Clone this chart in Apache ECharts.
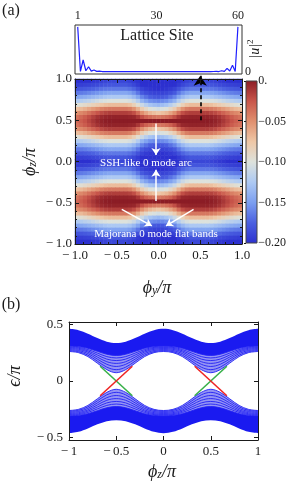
<!DOCTYPE html>
<html><head><meta charset="utf-8">
<script src="https://cdn.jsdelivr.net/npm/echarts@6/dist/echarts.min.js"></script>
<style>html,body{margin:0;padding:0;background:#fff}#c{width:289px;height:484px}</style>
</head><body><div id="c"></div>
<script>
// ---------- Inset: |u|^2 vs lattice site ----------
const latticeSites = [1,2,3,4,5,6,7,8,9,10,11,12,13,14,15,16,17,18,19,20,21,22,23,24,25,26,27,28,29,30,31,32,33,34,35,36,37,38,39,40,41,42,43,44,45,46,47,48,49,50,51,52,53,54,55,56,57,58,59,60];
const insetU2 = [.96,.004,.25,.02,.105,.012,.035,.006,.012,.003,.004,.002,.002,
  .001,.001,.001,.001,.001,.001,.001,.001,.001,.001,
  .001,.001,.001,.001,.001,.001,.001,.001,.001,.001,
  .001,.001,.001,.001,.001,.001,.001,.001,.001,.001,
  .001,.001,.001,.001,
  .002,.002,.003,.004,.006,.003,.02,.008,.07,.015,.14,.004,.96];
const insetTicks = [1,30,60];
const insetTickLabels = ['1','30','60'];

// ---------- Heatmap (a) ----------
const heatPhiY = [-1,-.95,-.9,-.85,-.8,-.75,-.7,-.65,-.6,-.55,-.5,-.45,-.4,-.35,-.3,-.25,-.2,-.15,-.1,-.05,0,.05,.1,.15,.2,.25,.3,.35,.4,.45,.5,.55,.6,.65,.7,.75,.8,.85,.9,.95,1];
const heatPhiZ = [1,.95,.9,.85,.8,.75,.7,.65,.6,.55,.5,.45,.4,.35,.3,.25,.2,.15,.1,.05,0,-.05,-.1,-.15,-.2,-.25,-.3,-.35,-.4,-.45,-.5,-.55,-.6,-.65,-.7,-.75,-.8,-.85,-.9,-.95,-1];
// rows read along phi_y (-1 -> 1) at a given distance of |phi_z| from 0.5
const rowDz00 = [-.033,-.029,-.024,-.018,-.012,-.006,-.003,-.001,0,0,0,0,0,0,0,0,0,0,0,0,0,0,0,0,0,0,0,0,0,0,0,0,0,-.001,-.003,-.006,-.012,-.018,-.024,-.029,-.033];
const rowDz05 = [-.037,-.033,-.028,-.022,-.016,-.01,-.006,-.004,-.003,-.003,-.003,-.003,-.003,-.004,-.005,-.012,-.022,-.03,-.035,-.038,-.04,-.038,-.035,-.03,-.022,-.012,-.005,-.004,-.003,-.003,-.003,-.003,-.003,-.004,-.006,-.01,-.016,-.022,-.028,-.033,-.037];
const rowDz10 = [-.05,-.047,-.043,-.037,-.031,-.025,-.02,-.017,-.015,-.015,-.015,-.015,-.015,-.017,-.022,-.035,-.05,-.06,-.068,-.072,-.075,-.072,-.068,-.06,-.05,-.035,-.022,-.017,-.015,-.015,-.015,-.015,-.015,-.017,-.02,-.025,-.031,-.037,-.043,-.047,-.05];
const rowDz15 = [-.072,-.069,-.065,-.06,-.055,-.05,-.045,-.042,-.04,-.04,-.04,-.04,-.04,-.043,-.052,-.065,-.08,-.09,-.098,-.102,-.105,-.102,-.098,-.09,-.08,-.065,-.052,-.043,-.04,-.04,-.04,-.04,-.04,-.042,-.045,-.05,-.055,-.06,-.065,-.069,-.072];
const rowDz20 = [-.098,-.095,-.092,-.088,-.084,-.08,-.075,-.072,-.07,-.07,-.07,-.07,-.07,-.073,-.083,-.095,-.11,-.12,-.128,-.132,-.135,-.132,-.128,-.12,-.11,-.095,-.083,-.073,-.07,-.07,-.07,-.07,-.07,-.072,-.075,-.08,-.084,-.088,-.092,-.095,-.098];
const rowDz25 = [-.124,-.122,-.119,-.116,-.112,-.108,-.104,-.102,-.1,-.1,-.1,-.1,-.1,-.103,-.11,-.122,-.138,-.147,-.155,-.158,-.16,-.158,-.155,-.147,-.138,-.122,-.11,-.103,-.1,-.1,-.1,-.1,-.1,-.102,-.104,-.108,-.112,-.116,-.119,-.122,-.124];
const rowDz30 = [-.146,-.144,-.142,-.139,-.136,-.133,-.13,-.127,-.125,-.125,-.125,-.125,-.125,-.128,-.135,-.146,-.16,-.168,-.175,-.178,-.18,-.178,-.175,-.168,-.16,-.146,-.135,-.128,-.125,-.125,-.125,-.125,-.125,-.127,-.13,-.133,-.136,-.139,-.142,-.144,-.146];
const rowDz35 = [-.165,-.164,-.162,-.159,-.156,-.153,-.15,-.147,-.145,-.145,-.145,-.145,-.145,-.148,-.155,-.166,-.178,-.184,-.188,-.19,-.19,-.19,-.188,-.184,-.178,-.166,-.155,-.148,-.145,-.145,-.145,-.145,-.145,-.147,-.15,-.153,-.156,-.159,-.162,-.164,-.165];
const rowDz40 = [-.181,-.18,-.178,-.176,-.174,-.171,-.168,-.166,-.165,-.165,-.165,-.165,-.165,-.168,-.173,-.182,-.19,-.194,-.197,-.199,-.2,-.199,-.197,-.194,-.19,-.182,-.173,-.168,-.165,-.165,-.165,-.165,-.165,-.166,-.168,-.171,-.174,-.176,-.178,-.18,-.181];
const rowDz45 = [-.193,-.192,-.191,-.19,-.188,-.186,-.183,-.181,-.18,-.18,-.18,-.18,-.18,-.183,-.188,-.194,-.2,-.2,-.2,-.2,-.2,-.2,-.2,-.2,-.2,-.194,-.188,-.183,-.18,-.18,-.18,-.18,-.18,-.181,-.183,-.186,-.188,-.19,-.191,-.192,-.193];
const rowDz50 = [-.2,-.2,-.2,-.2,-.197,-.195,-.192,-.19,-.188,-.188,-.188,-.188,-.188,-.191,-.195,-.198,-.2,-.2,-.2,-.2,-.2,-.2,-.2,-.2,-.2,-.198,-.195,-.191,-.188,-.188,-.188,-.188,-.188,-.19,-.192,-.195,-.197,-.2,-.2,-.2,-.2];
// rows from phi_z = 1 (top) to phi_z = -1 (bottom)
const heatRows = [rowDz50,rowDz45,rowDz40,rowDz35,rowDz30,rowDz25,rowDz20,rowDz15,rowDz10,rowDz05,rowDz00,
  rowDz05,rowDz10,rowDz15,rowDz20,rowDz25,rowDz30,rowDz35,rowDz40,rowDz45,rowDz50,
  rowDz45,rowDz40,rowDz35,rowDz30,rowDz25,rowDz20,rowDz15,rowDz10,rowDz05,rowDz00,
  rowDz05,rowDz10,rowDz15,rowDz20,rowDz25,rowDz30,rowDz35,rowDz40,rowDz45,rowDz50];
const heatPalette = ['#2c30cf','#4a5fe0','#7b9ef0','#adc9f3','#dde2dc','#eec7a6','#e08f6e','#c8554a','#8b1c25'];
const heatTicks = [-1,-.5,0,.5,1];
const heatTickLabels = ['\u2212\u20091.0','\u2212\u20090.5','0.0','0.5','1.0'];
const cbTicks = [0,-.05,-.1,-.15,-.2];
const cbTickLabels = ['0.','\u22120.05','\u22120.10','\u22120.15','\u22120.20'];
// annotations (data coordinates of panel a)
const whiteArrows = [
  [[-.03,.46],[-.03,.08]],
  [[-.03,-.48],[-.03,-.1]],
  [[-.44,-.58],[-.08,-.78]],
  [[.42,-.58],[.09,-.78]]
];
const dashedArrow = [[.5,.5],[.5,1.04]];

// ---------- Spectrum (b) ----------
const bandPhiZ = [-1,-.9,-.8,-.7,-.6,-.5,-.4,-.3,-.2,-.1,0,.1,.2,.3,.4,.5,.6,.7,.8,.9,1];
const upperOuter = [.46,.448,.417,.378,.347,.335,.347,.378,.417,.448,.46,.448,.417,.378,.347,.335,.347,.378,.417,.448,.46];
const upperDense = [.307,.303,.288,.262,.236,.225,.236,.262,.288,.303,.307,.303,.288,.262,.236,.225,.236,.262,.288,.303,.307];
const upperInner = [.26,.25,.215,.157,.1,.073,.1,.157,.215,.25,.26,.25,.215,.157,.1,.073,.1,.157,.215,.25,.26];
const upperArc1 = [.268,.259,.228,.175,.122,.1,.122,.175,.228,.259,.268,.259,.228,.175,.122,.1,.122,.175,.228,.259,.268];
const upperArc2 = [.277,.269,.242,.193,.147,.128,.147,.193,.242,.269,.277,.269,.242,.193,.147,.128,.147,.193,.242,.269,.277];
const upperArc3 = [.286,.279,.255,.211,.17,.155,.17,.211,.255,.279,.286,.279,.255,.211,.17,.155,.17,.211,.255,.279,.286];
const upperArc4 = [.294,.288,.266,.229,.193,.18,.193,.229,.266,.288,.294,.288,.266,.229,.193,.18,.193,.229,.266,.288,.294];
const upperArc5 = [.3,.296,.277,.246,.215,.203,.215,.246,.277,.296,.3,.296,.277,.246,.215,.203,.215,.246,.277,.296,.3];
const lowerOuter = [-.46,-.448,-.418,-.382,-.354,-.345,-.354,-.382,-.418,-.448,-.46,-.448,-.418,-.382,-.354,-.345,-.354,-.382,-.418,-.448,-.46];
const lowerDense = [-.307,-.303,-.288,-.262,-.236,-.225,-.236,-.262,-.288,-.303,-.307,-.303,-.288,-.262,-.236,-.225,-.236,-.262,-.288,-.303,-.307];
const lowerInner = [-.26,-.25,-.215,-.157,-.1,-.073,-.1,-.157,-.215,-.25,-.26,-.25,-.215,-.157,-.1,-.073,-.1,-.157,-.215,-.25,-.26];
const lowerArc1 = [-.268,-.259,-.228,-.175,-.122,-.1,-.122,-.175,-.228,-.259,-.268,-.259,-.228,-.175,-.122,-.1,-.122,-.175,-.228,-.259,-.268];
const lowerArc2 = [-.277,-.269,-.242,-.193,-.147,-.128,-.147,-.193,-.242,-.269,-.277,-.269,-.242,-.193,-.147,-.128,-.147,-.193,-.242,-.269,-.277];
const lowerArc3 = [-.286,-.279,-.255,-.211,-.17,-.155,-.17,-.211,-.255,-.279,-.286,-.279,-.255,-.211,-.17,-.155,-.17,-.211,-.255,-.279,-.286];
const lowerArc4 = [-.294,-.288,-.266,-.229,-.193,-.18,-.193,-.229,-.266,-.288,-.294,-.288,-.266,-.229,-.193,-.18,-.193,-.229,-.266,-.288,-.294];
const lowerArc5 = [-.3,-.296,-.277,-.246,-.215,-.203,-.215,-.246,-.277,-.296,-.3,-.296,-.277,-.246,-.215,-.203,-.215,-.246,-.277,-.296,-.3];
const edgeRed1 = [[-.67,-.13],[-.33,.13]];
const edgeGreen1 = [[-.67,.13],[-.33,-.13]];
const edgeRed2 = [[.33,.13],[.67,-.13]];
const edgeGreen2 = [[.33,-.13],[.67,.13]];
const bandTicksX = [-1,-.5,0,.5,1];
const bandTickLabelsX = ['\u2212\u20091','\u2212\u20090.5','0','0.5','1'];
const bandTicksY = [-.5,0,.5];
const bandTickLabelsY = ['\u2212\u20090.5','0','0.5'];

// ---------- build ----------
const SERIF = '"Liberation Serif","Times New Roman",serif';
const INK = '#1a1a1a';
const chart = echarts.init(document.getElementById('c'), null, {renderer:'canvas', width:289, height:484});
function lab(vals, labels){ return function(v){ for (let i=0;i<vals.length;i++){ if (Math.abs(vals[i]-v)<1e-6) return labels[i]; } return ''; }; }

const heatData = [];
heatRows.forEach(function(row, r){ row.forEach(function(v, c){ heatData.push([c, r, v]); }); });

const frameLine = {show:true, onZero:false, lineStyle:{color:INK, width:1}};
const labelStyle = {fontFamily:SERIF, color:INK};

function bandLine(vals, opt){
  return Object.assign({type:'line', xAxisIndex:5, yAxisIndex:5, data: bandPhiZ.map(function(x,i){return [x, vals[i]];}),
    symbol:'none', smooth:0.35, silent:true, animation:false}, opt);
}
function fillSeries(vals, color, z){ return bandLine(vals, {lineStyle:{width:0, color:color}, areaStyle:{color:color, opacity:1}, z:z}); }
function curveSeries(vals){ return bandLine(vals, {lineStyle:{width:0.9, color:'#2222f4'}, z:3}); }
function edgeSeries(pts, color){ return {type:'line', xAxisIndex:5, yAxisIndex:5, data:pts, symbol:'none', lineStyle:{color:color, width:1.6}, z:4, silent:true}; }

const cbStops = heatPalette.slice().reverse().map(function(c,i){ return {offset:i/(heatPalette.length-1), color:c}; });

function mathText(x, y, parts, rot, size){
  size = size || 18;
  return {type:'text', x:x, y:y, rotation:rot||0, z:100, silent:true, style:{
    text: parts, fill:INK, textAlign:'center', textVerticalAlign:'middle',
    rich:{
      m:{fontSize:size, fontStyle:'italic', fontFamily:SERIF, fill:INK, lineHeight:size+2, verticalAlign:'bottom'},
      s:{fontSize:Math.round(size*0.66), fontStyle:'italic', fontFamily:SERIF, fill:INK, lineHeight:8, verticalAlign:'bottom'},
      p:{fontSize:Math.round(size*0.66), fontFamily:SERIF, fill:INK, lineHeight:8, verticalAlign:'top'}
    }}};
}
function plainText(x, y, text, size, color, extra){
  return {type:'text', x:x, y:y, z:100, silent:true, style:Object.assign({text:text, font: size+'px '+SERIF, fill:color||INK, textAlign:'center', textVerticalAlign:'middle'}, extra||{})};
}

const option = {
  backgroundColor:'#fff',
  animation:false,
  grid:[
    {left:75, top:25, width:167, height:49, show:true, borderColor:'#333', borderWidth:1, backgroundColor:'rgba(0,0,0,0)'},
    {left:75, top:79, width:167, height:165},
    {left:75, top:79, width:167, height:165},
    {left:246, top:81, width:11, height:162},
    {left:69, top:322, width:189, height:118}
  ],
  xAxis:[
    {gridIndex:0, type:'value', min:0, max:61.5, position:'top', axisLine:{show:false}, axisTick:{show:false}, splitLine:{show:false},
      axisLabel:Object.assign({customValues:insetTicks, formatter:lab(insetTicks, insetTickLabels), fontSize:12, margin:3}, labelStyle)},
    {gridIndex:1, type:'category', data:heatPhiY, show:false},
    {gridIndex:2, type:'value', min:-1, max:1, interval:0.5, position:'bottom', z:10, axisLine:frameLine,
      axisTick:{show:true, inside:true, length:4, lineStyle:{color:INK}}, minorTick:{show:true, splitNumber:5, length:2, lineStyle:{color:INK}},
      splitLine:{show:false}, minorSplitLine:{show:false},
      axisLabel:Object.assign({formatter:lab(heatTicks, heatTickLabels), fontSize:13, margin:5, showMinLabel:true, showMaxLabel:true}, labelStyle)},
    {gridIndex:2, type:'value', min:-1, max:1, interval:0.5, position:'top', z:10, axisLine:frameLine,
      axisTick:{show:true, inside:true, length:4, lineStyle:{color:INK}}, minorTick:{show:true, splitNumber:5, length:2, lineStyle:{color:INK}},
      splitLine:{show:false}, axisLabel:{show:false}},
    {gridIndex:3, type:'value', min:0, max:1, show:false},
    {gridIndex:4, type:'value', min:-1, max:1, interval:0.5, position:'bottom', z:10, axisLine:frameLine,
      axisTick:{show:true, inside:true, length:4, lineStyle:{color:INK}}, splitLine:{show:false},
      axisLabel:Object.assign({formatter:lab(bandTicksX, bandTickLabelsX), fontSize:13, margin:5, showMinLabel:true, showMaxLabel:true}, labelStyle)},
    {gridIndex:4, type:'value', min:-1, max:1, interval:0.5, position:'top', z:10, axisLine:frameLine,
      axisTick:{show:true, inside:true, length:4, lineStyle:{color:INK}}, splitLine:{show:false}, axisLabel:{show:false}}
  ],
  yAxis:[
    {gridIndex:0, type:'value', min:-0.05, max:1, position:'right', axisLine:{show:false}, axisTick:{show:false}, splitLine:{show:false},
      axisLabel:Object.assign({customValues:[0], formatter:function(){return '0';}, fontSize:12, margin:3}, labelStyle)},
    {gridIndex:1, type:'category', data:heatPhiZ, inverse:true, show:false},
    {gridIndex:2, type:'value', min:-1, max:1, interval:0.5, position:'left', z:10, axisLine:frameLine,
      axisTick:{show:true, inside:true, length:4, lineStyle:{color:INK}}, minorTick:{show:true, splitNumber:5, length:2, lineStyle:{color:INK}},
      splitLine:{show:false},
      axisLabel:Object.assign({formatter:lab(heatTicks, heatTickLabels), fontSize:13, margin:3, showMinLabel:true, showMaxLabel:true}, labelStyle)},
    {gridIndex:2, type:'value', min:-1, max:1, interval:0.5, position:'right', z:10, axisLine:frameLine,
      axisTick:{show:true, inside:true, length:4, lineStyle:{color:INK}}, minorTick:{show:true, splitNumber:5, length:2, lineStyle:{color:INK}},
      splitLine:{show:false}, axisLabel:{show:false}},
    {gridIndex:3, type:'value', min:-0.2, max:0, interval:0.05, position:'right', axisLine:{show:false},
      axisTick:{show:true, inside:true, length:2, lineStyle:{color:INK}}, splitLine:{show:false}, z:60,
      axisLabel:Object.assign({formatter:lab(cbTicks, cbTickLabels), fontSize:12, margin:2, showMinLabel:true, showMaxLabel:true}, labelStyle)},
    {gridIndex:4, type:'value', min:-0.52, max:0.52, position:'left', z:10, axisLine:frameLine,
      axisTick:{show:true, inside:true, length:4, customValues:bandTicksY, lineStyle:{color:INK}}, splitLine:{show:false},
      axisLabel:Object.assign({customValues:bandTicksY, formatter:lab(bandTicksY, bandTickLabelsY), fontSize:13, margin:6}, labelStyle)},
    {gridIndex:4, type:'value', min:-0.52, max:0.52, position:'right', z:10, axisLine:frameLine,
      axisTick:{show:true, inside:true, length:4, customValues:bandTicksY, lineStyle:{color:INK}}, splitLine:{show:false}, axisLabel:{show:false}}
  ],
  visualMap:{type:'continuous', show:false, min:-0.2, max:0, seriesIndex:1, inRange:{color:heatPalette}},
  series:[
    {type:'line', xAxisIndex:0, yAxisIndex:0, data:latticeSites.map(function(s,i){return [s, insetU2[i]];}),
      symbol:'none', lineStyle:{color:'#1f1fff', width:1.2}, silent:true},
    {type:'heatmap', xAxisIndex:1, yAxisIndex:1, data:heatData, progressive:0, silent:true, emphasis:{disabled:true}},
    {type:'lines', coordinateSystem:'cartesian2d', xAxisIndex:2, yAxisIndex:2, z:5, silent:true,
      data: whiteArrows.map(function(a){return {coords:a};}), symbol:['none','arrow'], symbolSize:7,
      lineStyle:{color:'#ffffff', width:1.5, opacity:1, curveness:0}},
    {type:'lines', coordinateSystem:'cartesian2d', xAxisIndex:2, yAxisIndex:2, z:6, silent:true, clip:false,
      data:[{coords:dashedArrow}], symbol:['none','arrow'], symbolSize:10,
      lineStyle:{color:'#000', width:1.6, opacity:1, type:[4,3], curveness:0}},
    fillSeries(upperOuter, '#1a1af0', 1),
    fillSeries(upperDense, '#9494f4', 1),
    fillSeries(upperInner, '#ffffff', 1),
    fillSeries(lowerOuter, '#1a1af0', 1),
    fillSeries(lowerDense, '#9494f4', 1),
    fillSeries(lowerInner, '#ffffff', 1),
    curveSeries(upperInner), curveSeries(upperArc1), curveSeries(upperArc2), curveSeries(upperArc3), curveSeries(upperArc4), curveSeries(upperArc5), curveSeries(upperDense),
    curveSeries(lowerInner), curveSeries(lowerArc1), curveSeries(lowerArc2), curveSeries(lowerArc3), curveSeries(lowerArc4), curveSeries(lowerArc5), curveSeries(lowerDense),
    edgeSeries(edgeGreen1, '#38b04a'), edgeSeries(edgeGreen2, '#38b04a'),
    edgeSeries(edgeRed1, '#ee2424'), edgeSeries(edgeRed2, '#ee2424')
  ],
  graphic:[
    {type:'rect', z:50, silent:true, shape:{x:246, y:81, width:11, height:162},
      style:{fill:new echarts.graphic.LinearGradient(0,0,0,1,cbStops), stroke:'#444', lineWidth:1}},
    plainText(11, 11, '(a)', 16),
    plainText(11, 305, '(b)', 16),
    plainText(157, 36, 'Lattice Site', 16),
    mathText(254, 49, '{m||u|}{p|2}', Math.PI/2, 14),
    mathText(29, 162, '{m|\u03d5}{s|z}{m|/\u03c0}', Math.PI/2, 18),
    mathText(157, 287, '{m|\u03d5}{s|y}{m|/\u03c0}', 0, 18),
    mathText(14, 376, '{m|\u03f5/\u03c0}', Math.PI/2, 18),
    mathText(162, 471, '{m|\u03d5}{s|z}{m|/\u03c0}', 0, 18),
    plainText(146, 163, 'SSH-like 0 mode arc', 11, '#ffffff'),
    plainText(156, 234, 'Majorana 0 mode flat bands', 11, '#ffffff')
  ]
};
chart.setOption(option);
</script></body></html>
